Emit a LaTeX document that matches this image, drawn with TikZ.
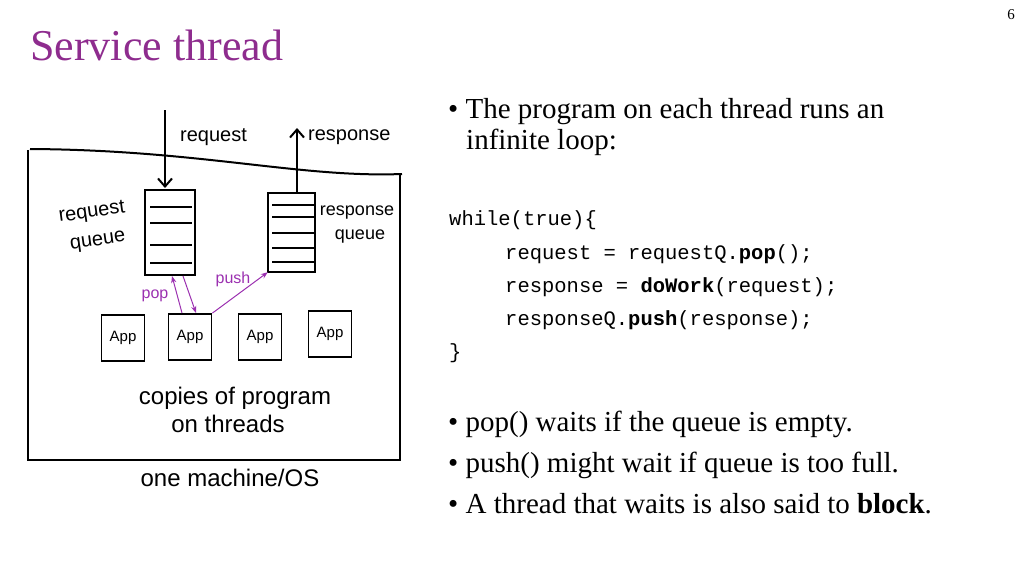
\documentclass[tikz,border=0pt]{standalone}
\usepackage{fontspec}
\setmainfont{Liberation Serif}
\setsansfont{Liberation Sans}
\setmonofont{Liberation Mono}
\usetikzlibrary{arrows.meta}
\definecolor{ttl}{HTML}{8E2C8E}
\definecolor{pur}{HTML}{9B30B0}
\begin{document}
\begin{tikzpicture}[x=1pt,y=-1pt,
  ink/.style={line width=2pt,black},
  hand/.style={font=\sffamily\fontsize{20}{22}\selectfont,inner sep=0pt},
  app/.style={draw,line width=1.8pt,minimum width=43pt,minimum height=46pt,font=\sffamily\fontsize{15}{16}\selectfont},
  parr/.style={pur,line width=1pt,-{Stealth[length=7pt]}},
  plab/.style={pur,font=\sffamily\fontsize{16}{18}\selectfont,inner sep=0pt},
  body/.style={font=\fontsize{29}{32}\selectfont,anchor=base west,inner sep=0pt},
  code/.style={font=\ttfamily\fontsize{20.5}{22}\selectfont,anchor=base west,inner sep=0pt}]
\useasboundingbox (0,0) rectangle (1024,576);
\node[ttl,font=\fontsize{44}{46}\selectfont,anchor=base west,inner sep=0pt] (title) at (30,60) {Service thread};
\node[font=\fontsize{15}{16}\selectfont,inner sep=0pt] (pg) at (1011,15) {6};
% machine box
\draw[ink] (28,150) -- (28,460) -- (400,460) -- (400,175);
\draw[ink] (30,149) .. controls (200,150) and (300,178) .. (402,174);
% queues
\draw[ink] (145,190) rectangle (195,275);
\foreach \y in {207,223,245,263} \draw[line width=1.4pt] (150,\y) -- (192,\y);
\node[inner sep=0pt,minimum width=50pt,minimum height=85pt] (rq) at (170,232.5) {};
\draw[ink] (268,193) rectangle (315,272);
\foreach \y in {205,217,233,248,262} \draw[line width=1.4pt] (272,\y) -- (315,\y);
\node[inner sep=0pt,minimum width=47pt,minimum height=79pt] (sq) at (291.5,232.5) {};
% in / out arrows
\coordinate (rin) at (165,110);
\coordinate (sout) at (297,128);
\draw[ink,-{Straight Barb[length=8pt,width=14pt]}] (rin) -- (165,188);
\draw[ink,-{Straight Barb[length=8pt,width=14pt]}] (297,192) -- (sout);
\node[hand,anchor=west] (lreq) at (180,137) {request};
\node[hand,anchor=west] (lres) at (308,137) {response};
\node[hand,rotate=8] (lrq) at (92,213) {request};
\node[hand,rotate=8] (lrq2) at (98,242) {queue};
\node[hand,font=\sffamily\fontsize{18}{20}\selectfont] (lsq) at (357,213) {response};
\node[hand,font=\sffamily\fontsize{18}{20}\selectfont] (lsq2) at (360,237) {queue};
% apps
\node[app] (a1) at (123,338) {App};
\node[app] (a2) at (190,337) {App};
\node[app] (a3) at (260,337) {App};
\node[app] (a4) at (330,334) {App};
% pop / push
\draw[parr] (182,313) -- (172,276);
\draw[parr] (183,276) -- (196,313);
\draw[parr] (a2.north east) -- (sq.south west);
\node[plab] (lpop) at (155,296) {pop};
\node[plab] (lpush) at (233,279) {push};
\node[hand,font=\sffamily\fontsize{24}{26}\selectfont] (cp) at (235,398) {copies of program};
\node[hand,font=\sffamily\fontsize{24}{26}\selectfont] (ot) at (228,424) {on threads};
\node[hand,font=\sffamily\fontsize{24}{26}\selectfont] (om) at (230,478) {one machine/OS};
% text
\node[body] (b1) at (448,118) {\textbullet\ The program on each thread runs an};
\node[body] (b1b) at (466,149) {infinite loop:};
\node[code] (c1) at (449,225) {while(true)\{};
\node[code] (c2) at (505,259) {request = requestQ.\textbf{pop}();};
\node[code] (c3) at (505,292) {response = \textbf{doWork}(request);};
\node[code] (c4) at (505,325) {responseQ.\textbf{push}(response);};
\node[code] (c5) at (449,358) {\}};
\node[body] (b2) at (448,431) {\textbullet\ pop() waits if the queue is empty.};
\node[body] (b3) at (448,472) {\textbullet\ push() might wait if queue is too full.};
\node[body] (b4) at (448,513) {\textbullet\ A thread that waits is also said to \textbf{block}.};
\end{tikzpicture}
\end{document}
